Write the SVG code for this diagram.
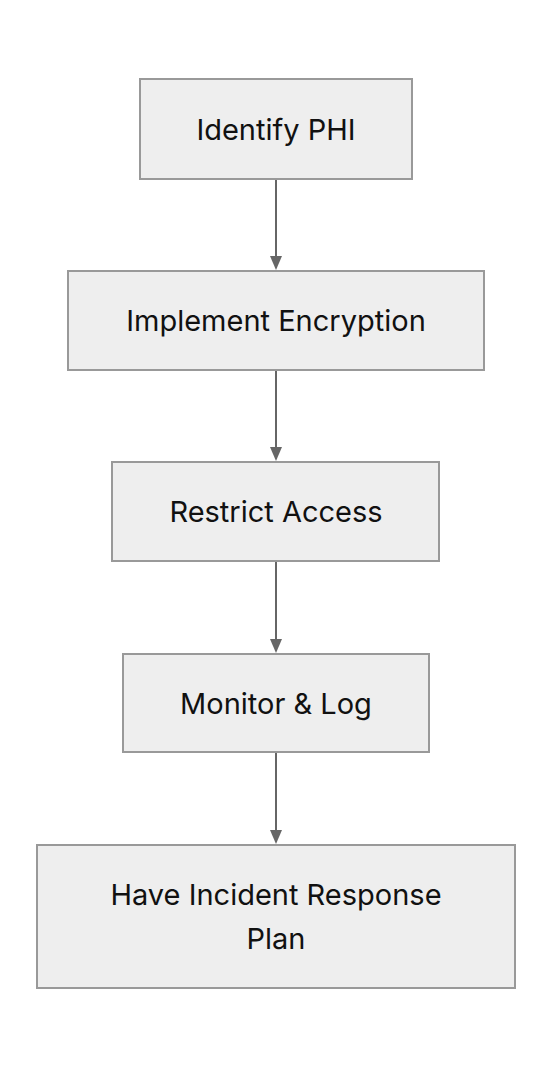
<svg xmlns="http://www.w3.org/2000/svg" width="552" height="1068" viewBox="0 0 552 1068">
<defs>
<style>
.node rect{fill:#eeeeee;stroke:#999999;stroke-width:2}
.node text{font-family:Inter,"Liberation Sans",sans-serif;font-size:29px;fill:#111111;text-anchor:middle}
.edge{stroke:#666666;stroke-width:2;fill:none}
.head{fill:#666666}
</style>
</defs>
<rect width="552" height="1068" fill="#ffffff"/>
<g id="connectors">
<line class="edge" x1="276" y1="180" x2="276" y2="256"/>
<path class="head" d="M270,256 L282,256 L276,270 Z"/>
<line class="edge" x1="276" y1="371" x2="276" y2="447"/>
<path class="head" d="M270,447 L282,447 L276,461 Z"/>
<line class="edge" x1="276" y1="562" x2="276" y2="639"/>
<path class="head" d="M270,639 L282,639 L276,653 Z"/>
<line class="edge" x1="276" y1="753" x2="276" y2="830"/>
<path class="head" d="M270,830 L282,830 L276,844 Z"/>
</g>
<g id="identify-phi" class="node">
<rect x="140" y="79" width="272" height="100"/>
<text x="276" y="140">Identify PHI</text>
</g>
<g id="implement-encryption" class="node">
<rect x="68" y="271" width="416" height="99"/>
<text x="276" y="331">Implement Encryption</text>
</g>
<g id="restrict-access" class="node">
<rect x="112" y="462" width="327" height="99"/>
<text x="276" y="522">Restrict Access</text>
</g>
<g id="monitor-log" class="node">
<rect x="123" y="654" width="306" height="98"/>
<text x="276" y="714">Monitor &amp; Log</text>
</g>
<g id="incident-response" class="node">
<rect x="37" y="845" width="478" height="143"/>
<text x="276" y="905">Have Incident Response</text>
<text x="276" y="949">Plan</text>
</g>
</svg>
